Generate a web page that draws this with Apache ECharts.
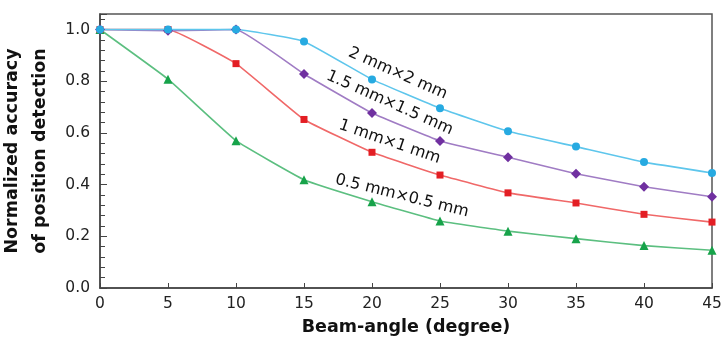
<!DOCTYPE html>
<html><head><meta charset="utf-8">
<script src="https://cdn.jsdelivr.net/npm/echarts@6/dist/echarts.min.js"></script>
<style>html,body{margin:0;padding:0;background:#fff}#c{width:726px;height:346px}</style>
</head><body><div id="c"></div>
<script>
const angles = [0,5,10,15,20,25,30,35,40,45];
const s2mm   = [1.0,1.0,1.0,0.954,0.807,0.695,0.606,0.547,0.487,0.445];
const s15mm  = [1.0,0.995,1.0,0.828,0.677,0.569,0.506,0.442,0.392,0.353];
const s1mm   = [1.0,1.0,0.868,0.652,0.525,0.437,0.368,0.329,0.285,0.255];
const s05mm  = [1.0,0.808,0.570,0.419,0.334,0.259,0.220,0.191,0.164,0.146];
const yTicks = [0,0.2,0.4,0.6,0.8,1.0];
const labels = [
  {text:'2 mm×2 mm', x:21.9, y:0.83, rot:24},
  {text:'1.5 mm×1.5 mm', x:21.3, y:0.716, rot:24},
  {text:'1 mm×1 mm', x:21.3, y:0.565, rot:19},
  {text:'0.5 mm×0.5 mm', x:22.2, y:0.356, rot:14}
];
const FONT = '"DejaVu Sans", Verdana, sans-serif';
const chart = echarts.init(document.getElementById('c'), null, {renderer:'canvas'});
function mk(name, data, lineColor, markColor, symbol, size){
  return {name, type:'line', data:angles.map((a,i)=>[a,data[i]]), smooth:0.1,
    symbol, symbolSize:size, showAllSymbol:true,
    lineStyle:{color:lineColor,width:1.6}, itemStyle:{color:markColor}, z:2};
}
chart.setOption({
  animation:false,
  grid:{left:100,right:14,top:14,bottom:58,containLabel:false,outerBoundsMode:'none',
    show:true,borderColor:'#555',borderWidth:1.5,backgroundColor:'transparent'},
  xAxis:{type:'value',min:0,max:45,interval:5,
    name:'Beam-angle (degree)',nameLocation:'middle',nameGap:30,
    nameTextStyle:{fontFamily:FONT,fontWeight:'bold',fontSize:17.5,color:'#111'},
    axisLine:{show:true,lineStyle:{color:'#444',width:1.5}},
    axisTick:{show:true,inside:true,length:5,lineStyle:{color:'#444'}},
    axisLabel:{fontFamily:FONT,fontSize:15.5,color:'#222',margin:8},
    splitLine:{show:false}},
  yAxis:{type:'value',min:0,max:1.06,interval:0.2,
    name:'Normalized accuracy\nof position detection',nameLocation:'middle',nameGap:41,
    nameTextStyle:{fontFamily:FONT,fontWeight:'bold',fontSize:17.5,color:'#111',lineHeight:28},
    axisLine:{show:true,lineStyle:{color:'#444',width:1.5}},
    axisTick:{show:true,inside:true,length:7,lineStyle:{color:'#444'}},
    minorTick:{show:true,splitNumber:5,length:5,lineStyle:{color:'#444'}},
    axisLabel:{fontFamily:FONT,fontSize:15.5,color:'#222',margin:10,
      formatter:v=>yTicks.some(t=>Math.abs(t-v)<1e-6)?v.toFixed(1):''},
    splitLine:{show:false}},
  series:[
    mk('0.5 mm×0.5 mm', s05mm, '#5cbf80', '#17a34a', 'triangle', 9),
    mk('1 mm×1 mm', s1mm, '#f06868', '#e31e24', 'rect', 7),
    mk('1.5 mm×1.5 mm', s15mm, '#a07cc4', '#7030a0', 'diamond', 10),
    mk('2 mm×2 mm', s2mm, '#5ec6ec', '#27aae1', 'circle', 8)
  ]
});
const g = labels.map(l=>{
  const p = chart.convertToPixel({gridIndex:0},[l.x,l.y]);
  return {type:'text', x:p[0], y:p[1], rotation:-l.rot*Math.PI/180, z:10,
    style:{text:l.text, fontFamily:FONT, fontSize:16, fill:'#111', align:'center', verticalAlign:'middle'}};
});
chart.setOption({graphic:g});
</script></body></html>
